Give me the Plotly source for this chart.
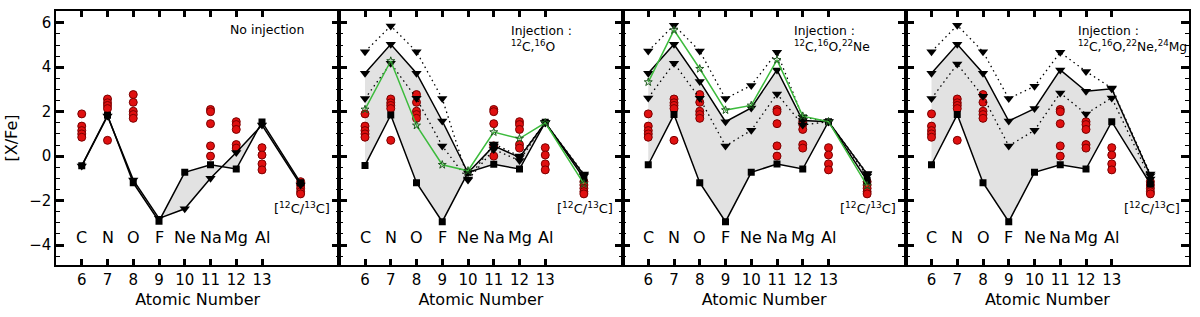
import plotly.graph_objects as go

# ---------------- data ----------------
Z = [6, 7, 8, 9, 10, 11, 12, 13, 14.5]
elements = ["C", "N", "O", "F", "Ne", "Na", "Mg", "Al"]
element_z = [6, 7, 8, 9, 10, 11, 12, 13]
x_ticks = [6, 7, 8, 9, 10, 11, 12, 13]

# observed abundances (red dots)
obs_C = [1.9, 1.35, 1.15, 1.0, 0.85]
obs_N = [2.57, 2.4, 2.28, 2.14, 0.71]
obs_O = [2.77, 2.42, 2.02, 1.87, 1.7]
obs_Na = [2.1, 2.0, 1.46, 0.46, 0.0]
obs_Mg = [1.55, 1.42, 1.2, 0.52, 0.36]
obs_Al = [0.38, 0.05, -0.35, -0.62]
obs_ratio = [-1.15, -1.3, -1.45, -1.6, -1.7]

# panel 1 : no injection
p1_squares = [-0.43, 1.84, -1.2, -2.93, -0.73, -0.39, -0.58, 1.54, -1.2]
p1_triangles = [-0.45, 1.8, -1.07, -2.8, -2.37, -1.0, 0.16, 1.4, -1.3]

# panel 2 : injection 12C, 16O
p2_squares = [-0.42, 1.85, -1.2, -2.95, -0.73, -0.37, -0.58, 1.52, -1.0]
p2_upper_solid = [3.73, 5.03, 3.73, 1.58, -0.75, 0.46, -0.06, 1.5, -0.85]
p2_upper_dotted = [4.70, 5.86, 4.70, 2.59, -1.03, 0.55, 0.0, 1.5, -0.8]
p2_lower_dotted = [2.59, 4.18, 2.6, 0.46, -1.07, 0.3, -0.2, 1.5, -0.9]
p2_green = [2.1, 4.28, 1.38, -0.39, -0.66, 1.08, 0.79, 1.5, -1.25]

# panel 3 : injection 12C, 16O, 22Ne
p3_squares = [-0.39, 1.87, -1.2, -2.95, -0.73, -0.36, -0.58, 1.55, -1.1]
p3_upper_solid = [3.73, 5.03, 3.36, 1.55, 2.17, 3.88, 1.6, 1.55, -0.81]
p3_upper_dotted = [4.73, 5.89, 4.73, 2.59, 3.18, 4.67, 1.75, 1.55, -0.78]
p3_lower_dotted = [2.62, 4.18, 2.6, 0.46, 1.16, 2.8, 1.4, 1.55, -0.9]
p3_green = [3.33, 5.67, 3.93, 2.07, 2.28, 4.33, 1.8, 1.55, -1.33]

# panel 4 : injection 12C, 16O, 22Ne, 24Mg
p4_squares = [-0.39, 1.87, -1.2, -2.95, -0.73, -0.39, -0.58, 1.55, -1.25]
p4_upper_solid = [3.73, 5.03, 3.73, 1.58, 2.14, 3.88, 2.92, 3.03, -0.88]
p4_upper_dotted = [4.7, 5.89, 4.7, 2.59, 3.14, 4.67, 3.81, 3.06, -0.81]
p4_lower_dotted = [2.59, 4.14, 2.69, 0.46, 1.16, 2.84, 1.9, 2.62, -1.03]

panel_labels = [
    "No injection",
    "Injection :<br><sup>12</sup>C,<sup>16</sup>O",
    "Injection :<br><sup>12</sup>C,<sup>16</sup>O,<sup>22</sup>Ne",
    "Injection :<br><sup>12</sup>C,<sup>16</sup>O,<sup>22</sup>Ne,<sup>24</sup>Mg",
]
ratio_label = "[<sup>12</sup>C/<sup>13</sup>C]"

# ---------------- figure ----------------
FONT = "DejaVu Sans"
GRAY = "#e2e2e2"
GREEN = "#3dbb3d"
fig = go.Figure()

obs_x = []
obs_y = []
for z, vals in zip([6, 7, 8, 11, 12, 13, 14.5],
                   [obs_C, obs_N, obs_O, obs_Na, obs_Mg, obs_Al, obs_ratio]):
    obs_x += [z] * len(vals)
    obs_y += vals

panels = [
    dict(lower=p1_squares, upper=p1_triangles, dotted=[], green=None),
    dict(lower=p2_squares, upper=p2_upper_solid, dotted=[p2_upper_dotted, p2_lower_dotted], green=p2_green),
    dict(lower=p3_squares, upper=p3_upper_solid, dotted=[p3_upper_dotted, p3_lower_dotted], green=p3_green),
    dict(lower=p4_squares, upper=p4_upper_solid, dotted=[p4_upper_dotted, p4_lower_dotted], green=None),
]

for i, p in enumerate(panels):
    xa = "x" if i == 0 else f"x{i+1}"
    ya = "y" if i == 0 else f"y{i+1}"
    # shaded band
    fig.add_trace(go.Scatter(
        x=Z + Z[::-1], y=p["upper"] + p["lower"][::-1],
        fill="toself", fillcolor=GRAY, line=dict(width=0),
        mode="lines", xaxis=xa, yaxis=ya, hoverinfo="skip", showlegend=False))
    # observations
    fig.add_trace(go.Scatter(
        x=obs_x, y=obs_y, mode="markers",
        marker=dict(symbol="circle", size=8, color="#e01010",
                    line=dict(color="#7a0000", width=1)),
        xaxis=xa, yaxis=ya, showlegend=False))
    # dotted
    for d in p["dotted"]:
        fig.add_trace(go.Scatter(
            x=Z, y=d, mode="lines+markers",
            line=dict(color="black", width=1.3, dash="1.5px,3.5px"),
            marker=dict(symbol="triangle-down", size=9, color="black"),
            xaxis=xa, yaxis=ya, showlegend=False))
    # upper solid
    fig.add_trace(go.Scatter(
        x=Z, y=p["upper"], mode="lines+markers",
        line=dict(color="black", width=1.5),
        marker=dict(symbol="triangle-down", size=9, color="black"),
        xaxis=xa, yaxis=ya, showlegend=False))
    # lower solid with squares
    fig.add_trace(go.Scatter(
        x=Z, y=p["lower"], mode="lines+markers",
        line=dict(color="black", width=1.5),
        marker=dict(symbol="square", size=7, color="black"),
        xaxis=xa, yaxis=ya, showlegend=False))
    if p["green"] is not None:
        fig.add_trace(go.Scatter(
            x=Z, y=p["green"], mode="lines+markers",
            line=dict(color=GREEN, width=1.5),
            marker=dict(symbol="star-open", size=6, color="#1f5a1f",
                        line=dict(width=1)),
            xaxis=xa, yaxis=ya, showlegend=False))

    # element labels
    for el, z in zip(elements, element_z):
        fig.add_annotation(x=z, y=-3.65, xref=xa, yref=ya, text=el,
                           showarrow=False,
                           font=dict(family=FONT, size=16, color="black"))
    fig.add_annotation(x=14.55, y=-2.35, xref=xa, yref=ya, text=ratio_label,
                       showarrow=False,
                       font=dict(family=FONT, size=13, color="black"))
    if i == 0:
        fig.add_annotation(x=13.2, y=5.68, xref=xa, yref=ya, text=panel_labels[0],
                           showarrow=False,
                           font=dict(family=FONT, size=12.5, color="black"))
    else:
        fig.add_annotation(x=11.6, y=6.05, xref=xa, yref=ya, text=panel_labels[i],
                           showarrow=False, xanchor="left", yanchor="top", align="left",
                           font=dict(family=FONT, size=12.3, color="black"))

layout = dict(
    width=1200, height=317,
    margin=dict(l=56, r=10, t=9, b=52),
    paper_bgcolor="white", plot_bgcolor="white",
    font=dict(family=FONT, color="black"),
    showlegend=False,
)
for i in range(4):
    xk = "xaxis" if i == 0 else f"xaxis{i+1}"
    yk = "yaxis" if i == 0 else f"yaxis{i+1}"
    xa = "x" if i == 0 else f"x{i+1}"
    ya = "y" if i == 0 else f"y{i+1}"
    layout[xk] = dict(
        domain=[i * 0.25, (i + 1) * 0.25], range=[5, 16], anchor=ya,
        tickvals=x_ticks, ticktext=[str(t) for t in x_ticks],
        ticks="inside", ticklen=6, tickwidth=2.5, tickcolor="black",
        showline=True, linecolor="black", linewidth=1.5, mirror="ticks",
        showgrid=False, zeroline=False,
        tickfont=dict(family=FONT, size=15),
        title=dict(text="Atomic Number", font=dict(family=FONT, size=16), standoff=6),
    )
    layout[yk] = dict(
        domain=[0, 1], range=[-4.9, 6.53], anchor=xa,
        dtick=2, tick0=0,
        ticks="inside", ticklen=8, tickwidth=2.5, tickcolor="black",
        minor=dict(dtick=0.5, ticks="inside", ticklen=4, tickwidth=1, tickcolor="black"),
        showline=True, linecolor="black", linewidth=1.5, mirror="ticks",
        showgrid=False, zeroline=False,
        showticklabels=(i == 0),
        tickfont=dict(family=FONT, size=15),
    )
layout["yaxis"]["title"] = dict(text="[X/Fe]", font=dict(family=FONT, size=16), standoff=8)

fig.update_layout(**layout)
fig.write_html(
    "out.html",
    config={"displayModeBar": False},
    post_script="document.body.style.margin='0';document.body.style.overflow='hidden';",
)
